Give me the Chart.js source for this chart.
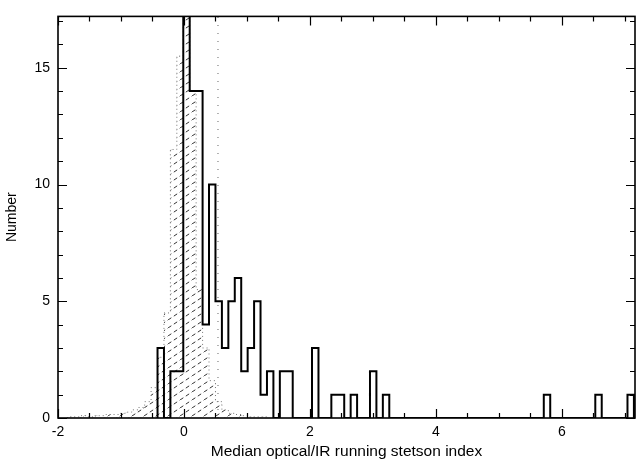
<!DOCTYPE html>
<html>
<head>
<meta charset="utf-8">
<script src="https://cdn.jsdelivr.net/npm/chart.js@4.4.1/dist/chart.umd.min.js"></script>
<style>
  html, body { margin: 0; padding: 0; background: #fff; }
  #wrap { width: 636px; height: 463px; }
</style>
</head>
<body>
<div id="wrap"><canvas id="hist"></canvas></div>
<script>
// Histogram binning (both distributions share it)
const binStart = -0.42;
const binWidth = 0.1022;

// Observed sources: counts per bin, first bin starts at binStart
const observedCounts = [
    3, 0, 2, 2, 18, 14, 14, 4, 10, 5, 3, 5, 6, 2, 3, 5, 1, 2, 0, 2,
    2, 0, 0, 0, 3, 0, 0, 1, 1, 0, 1, 0, 0, 2, 0, 1, 0, 0, 0, 0,
    0, 0, 0, 0, 0, 0, 0, 0, 0, 0, 0, 0, 0, 0, 0, 0, 0, 0, 0, 0,
    1, 0, 0, 0, 0, 0, 0, 0, 1, 0, 0, 0, 0, 1
];

// Control / noise distribution (hatched), starts 14 bins before binStart
const controlOffset = 14;
const controlCounts = [
    0.05, 0.05, 0.1, 0.05, 0.1, 0.1, 0.15, 0.15, 0.2, 0.25,
    0.35, 0.45, 0.7, 1.3, 2.6, 4.5, 11.5, 15.5, 18, 14,
    5.5, 3, 1.6, 0.7, 0.35, 0.2, 0.15, 0.1, 0.05, 0.05, 0.05
];

// Dotted cut-off line
const cutoffValue = 0.54;

// Axes
const xTicks = [-2, 0, 2, 4, 6];
const yTicks = [0, 5, 10, 15];
const xRange = [-2, 7.16];
const yRange = [0, 17.2];

document.addEventListener('DOMContentLoaded', function() {
    const ctx = document.getElementById('hist').getContext('2d');

    // Outline of a histogram as a step polyline
    function stepOutline(start, counts) {
        const pts = [{ x: start, y: 0 }];
        counts.forEach((c, i) => {
            const left = start + i * binWidth;
            pts.push({ x: left, y: c });
            pts.push({ x: left + binWidth, y: c });
        });
        pts.push({ x: start + counts.length * binWidth, y: 0 });
        return pts;
    }

    // Diagonal dashed hatching
    function makeHatch() {
        const c = document.createElement('canvas');
        c.width = 12; c.height = 8;
        const g = c.getContext('2d');
        g.strokeStyle = '#333';
        g.lineWidth = 1;
        g.setLineDash([4, 3]);
        g.beginPath();
        g.moveTo(0, 8);
        g.lineTo(12, 0);
        g.stroke();
        return g.createPattern(c, 'repeat');
    }

    // Frame plus IDL-style ticks on all four sides
    const frameTicks = {
        id: 'frameTicks',
        afterDatasetsDraw(chart) {
            const { ctx, chartArea: a, scales: { x, y } } = chart;
            ctx.save();
            ctx.strokeStyle = '#000';
            ctx.lineWidth = 1.2;
            ctx.beginPath();
            for (let v = -2; v <= 7.001; v += 0.5) {
                const px = Math.round(x.getPixelForValue(v)) + 0.5;
                const len = xTicks.includes(v) ? 9 : 5;
                ctx.moveTo(px, a.bottom); ctx.lineTo(px, a.bottom - len);
                ctx.moveTo(px, a.top); ctx.lineTo(px, a.top + len);
            }
            for (let v = 0; v <= 17; v += 1) {
                const py = Math.round(y.getPixelForValue(v)) + 0.5;
                const len = yTicks.includes(v) ? 9 : 5;
                ctx.moveTo(a.left, py); ctx.lineTo(a.left + len, py);
                ctx.moveTo(a.right, py); ctx.lineTo(a.right - len, py);
            }
            ctx.stroke();
            ctx.lineWidth = 1.6;
            ctx.strokeRect(a.left, a.top, a.right - a.left, a.bottom - a.top);
            ctx.restore();
        }
    };

    const family = 'Liberation Sans, Arial, sans-serif';
    const tickFont = { family: family, size: 14 };

    new Chart(ctx, {
        type: 'scatter',
        data: {
            datasets: [
                {
                    label: 'Observed',
                    data: stepOutline(binStart, observedCounts),
                    showLine: true,
                    borderColor: '#000',
                    borderWidth: 2,
                    pointRadius: 0,
                    fill: false,
                    order: 0
                },
                {
                    label: 'Control',
                    data: stepOutline(binStart - controlOffset * binWidth, controlCounts),
                    showLine: true,
                    borderColor: '#777',
                    borderWidth: 1,
                    borderDash: [1, 3],
                    pointRadius: 0,
                    backgroundColor: makeHatch(),
                    fill: 'origin',
                    order: 1
                },
                {
                    label: 'Cut-off',
                    data: [{ x: cutoffValue, y: 0 }, { x: cutoffValue, y: yRange[1] }],
                    showLine: true,
                    borderColor: '#666',
                    borderWidth: 1,
                    borderDash: [1, 7],
                    pointRadius: 0,
                    fill: false,
                    order: 2
                }
            ]
        },
        options: {
            responsive: true,
            maintainAspectRatio: false,
            animation: false,
            layout: { padding: { top: 5, right: 1, bottom: 0, left: 0 } },
            plugins: {
                legend: { display: false },
                tooltip: { enabled: false }
            },
            scales: {
                x: {
                    type: 'linear',
                    min: xRange[0],
                    max: xRange[1],
                    afterBuildTicks: s => { s.ticks = xTicks.map(v => ({ value: v })); },
                    afterFit: s => { s.height = 45; },
                    grid: { display: false, drawTicks: false },
                    border: { display: false },
                    ticks: { color: '#000', font: tickFont, padding: 6, maxRotation: 0 },
                    title: {
                        display: true,
                        text: 'Median optical/IR running stetson index',
                        color: '#000',
                        font: { family: family, size: 15.5 },
                        padding: { top: 0, bottom: 2 }
                    }
                },
                y: {
                    type: 'linear',
                    min: yRange[0],
                    max: yRange[1],
                    afterBuildTicks: s => { s.ticks = yTicks.map(v => ({ value: v })); },
                    afterFit: s => { s.width = 58; },
                    grid: { display: false, drawTicks: false },
                    border: { display: false },
                    ticks: { color: '#000', font: tickFont, padding: 8 },
                    title: {
                        display: true,
                        text: 'Number',
                        color: '#000',
                        font: { family: family, size: 14 },
                        padding: { top: 4, bottom: 0 }
                    }
                }
            }
        },
        plugins: [frameTicks]
    });
});
</script>
</body>
</html>
